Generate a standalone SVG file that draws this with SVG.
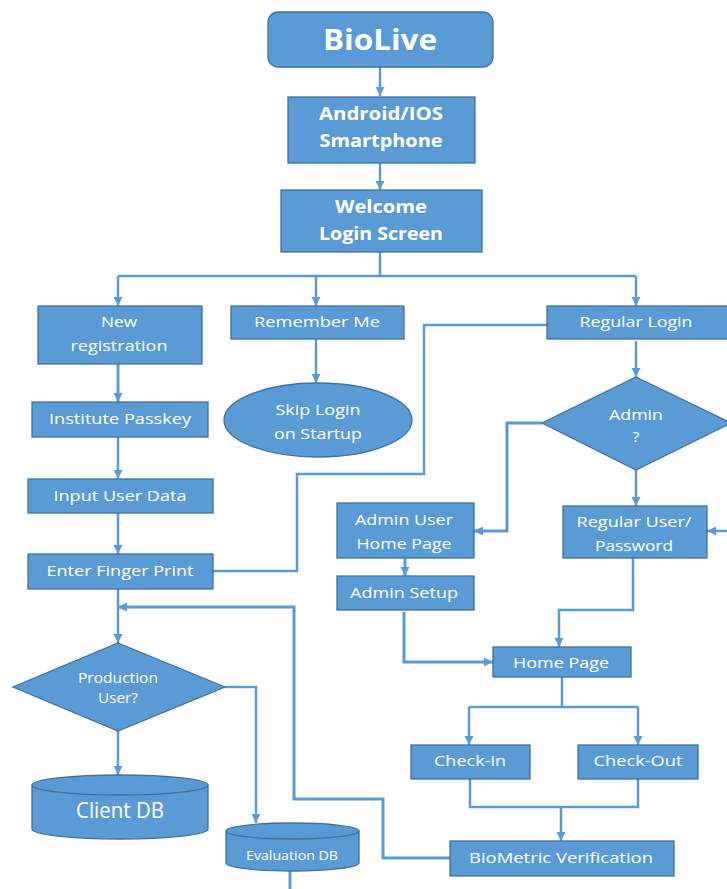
<svg xmlns="http://www.w3.org/2000/svg" width="727" height="889" viewBox="0 0 727 889">
<style>
.n{fill:#5B9BD5;stroke:#41719C;stroke-width:1.3}
.t{fill:#fff;font-family:"Open Sans","Noto Sans",sans-serif;font-size:15px;text-anchor:middle}
.b{font-weight:bold}
.c{fill:none;stroke:#5B9BD5;stroke-width:2.5}
.a{marker-end:url(#ah)}
</style>
<defs>
<marker id="ah" markerUnits="userSpaceOnUse" markerWidth="10" markerHeight="10" refX="9" refY="4.5" orient="auto">
<path d="M0,0 L9,4.5 L0,9 z" fill="#5B9BD5"/>
</marker>
</defs>
<rect width="727" height="889" fill="#fff"/>
<g id="connectors">
<path class="c a" d="M380,67 V96"/>
<path class="c a" d="M380,163 V190"/>
<path class="c" d="M380,252 V276 M118,276 H636"/>
<path class="c a" d="M118,276 V306"/>
<path class="c a" d="M316,276 V306"/>
<path class="c a" d="M636,276 V306"/>
<path class="c a" d="M118,364 V402" style="stroke-width:3"/>
<path class="c a" d="M316,339 V383"/>
<path class="c a" d="M118,437 V479"/>
<path class="c a" d="M118,513 V554"/>
<path class="c a" d="M118,589 V643"/>
<path class="c" d="M213,571 H297 V474 H424 V325 H547"/>
<path class="c a" d="M636,341 V377"/>
<path class="c a" d="M542,423 H507 V531 H474" style="stroke-width:3"/>
<path class="c a" d="M636,470 V506"/>
<path class="c a" d="M727,531 H707"/>
<path class="c a" d="M405,558 V576" style="stroke-width:3"/>
<path class="c a" d="M404,612 V662 H493" style="stroke-width:3"/>
<path class="c a" d="M633,558 V610 H559 V647"/>
<path class="c" d="M562,677 V707 M469,707 H638"/>
<path class="c a" d="M469,707 V745"/>
<path class="c a" d="M638,707 V745"/>
<path class="c" d="M470,779 V807 H638 V779"/>
<path class="c a" d="M561,807 V841"/>
<path class="c a" d="M450,858 H383 V799 H294 V607 H118" style="stroke-width:3"/>
<path class="c a" d="M118,731 V775"/>
<path class="c a" d="M225,687 H256 V823"/>
<path class="c" d="M290,871 V889" style="stroke-width:3"/>
</g>
<g id="biolive">
<rect class="n" x="268" y="12" width="225" height="55" rx="10"/>
<text class="t b" x="380" y="50" style="font-size:28px" textLength="114" lengthAdjust="spacingAndGlyphs">BioLive</text>
</g>
<g id="android">
<rect class="n" x="288" y="97" width="187" height="66"/>
<text class="t b" x="381" y="120" style="font-size:18px" textLength="124" lengthAdjust="spacingAndGlyphs">Android/IOS</text>
<text class="t b" x="381" y="147" style="font-size:18px" textLength="123" lengthAdjust="spacingAndGlyphs">Smartphone</text>
</g>
<g id="welcome">
<rect class="n" x="281" y="190" width="201" height="62"/>
<text class="t b" x="381" y="213" style="font-size:18px" textLength="92" lengthAdjust="spacingAndGlyphs">Welcome</text>
<text class="t b" x="381" y="240" style="font-size:18px" textLength="124" lengthAdjust="spacingAndGlyphs">Login Screen</text>
</g>
<g id="newreg">
<rect class="n" x="38" y="306" width="164" height="58"/>
<text class="t" x="119" y="327" textLength="36" lengthAdjust="spacingAndGlyphs">New</text>
<text class="t" x="119" y="351" textLength="97" lengthAdjust="spacingAndGlyphs">registration</text>
</g>
<g id="remember">
<rect class="n" x="231" y="306" width="173" height="33"/>
<text class="t" x="317" y="327" textLength="126" lengthAdjust="spacingAndGlyphs">Remember Me</text>
</g>
<g id="regularlogin">
<rect class="n" x="547" y="306" width="182" height="33"/>
<text class="t" x="636" y="327" textLength="113" lengthAdjust="spacingAndGlyphs">Regular Login</text>
</g>
<g id="passkey">
<rect class="n" x="32" y="402" width="176" height="35"/>
<text class="t" x="120" y="424" textLength="142" lengthAdjust="spacingAndGlyphs">Institute Passkey</text>
</g>
<g id="skiplogin">
<ellipse class="n" cx="318" cy="420" rx="94" ry="37"/>
<text class="t" x="318" y="415" textLength="85" lengthAdjust="spacingAndGlyphs">Skip Login</text>
<text class="t" x="318" y="439" textLength="88" lengthAdjust="spacingAndGlyphs">on Startup</text>
</g>
<g id="admin">
<polygon class="n" points="636,377 731,423 636,470 542,423"/>
<text class="t" x="636" y="420" textLength="54" lengthAdjust="spacingAndGlyphs">Admin</text>
<text class="t" x="636" y="442">?</text>
</g>
<g id="inputdata">
<rect class="n" x="28" y="479" width="185" height="34"/>
<text class="t" x="120" y="501" textLength="133" lengthAdjust="spacingAndGlyphs">Input User Data</text>
</g>
<g id="adminhome">
<rect class="n" x="337" y="503" width="137" height="55"/>
<text class="t" x="404" y="525" textLength="98" lengthAdjust="spacingAndGlyphs">Admin User</text>
<text class="t" x="404" y="549" textLength="95" lengthAdjust="spacingAndGlyphs">Home Page</text>
</g>
<g id="regularuser">
<rect class="n" x="563" y="506" width="144" height="52"/>
<text class="t" x="634" y="527" textLength="115" lengthAdjust="spacingAndGlyphs">Regular User/</text>
<text class="t" x="634" y="551" textLength="78" lengthAdjust="spacingAndGlyphs">Password</text>
</g>
<g id="fingerprint">
<rect class="n" x="28" y="554" width="185" height="35"/>
<text class="t" x="120" y="576" textLength="147" lengthAdjust="spacingAndGlyphs">Enter Finger Print</text>
</g>
<g id="adminsetup">
<rect class="n" x="337" y="576" width="137" height="34"/>
<text class="t" x="404" y="598" textLength="108" lengthAdjust="spacingAndGlyphs">Admin Setup</text>
</g>
<g id="homepage">
<rect class="n" x="493" y="647" width="138" height="30"/>
<text class="t" x="561" y="668" textLength="96" lengthAdjust="spacingAndGlyphs">Home Page</text>
</g>
<g id="production">
<polygon class="n" points="118,643 225,687 118,731 13,687"/>
<text class="t" x="118" y="683" style="font-size:14px" textLength="80" lengthAdjust="spacingAndGlyphs">Production</text>
<text class="t" x="118" y="703" style="font-size:14px" textLength="40" lengthAdjust="spacingAndGlyphs">User?</text>
</g>
<g id="checkin">
<rect class="n" x="411" y="745" width="119" height="34"/>
<text class="t" x="470" y="766" textLength="72" lengthAdjust="spacingAndGlyphs">Check-in</text>
</g>
<g id="checkout">
<rect class="n" x="578" y="745" width="120" height="34"/>
<text class="t" x="638" y="766" textLength="89" lengthAdjust="spacingAndGlyphs">Check-Out</text>
</g>
<g id="clientdb">
<path class="n" d="M32,785 A88,10 0 0 1 208,785 V829 A88,10 0 0 1 32,829 Z"/>
<path fill="none" stroke="#41719C" stroke-width="1.3" d="M32,785 A88,10 0 0 0 208,785"/>
<text class="t" x="120" y="818" style="font-size:21px" textLength="88" lengthAdjust="spacingAndGlyphs">Client DB</text>
</g>
<g id="evaldb">
<path class="n" d="M226,831 A66.5,8 0 0 1 359,831 V863 A66.5,8 0 0 1 226,863 Z"/>
<path fill="none" stroke="#41719C" stroke-width="1.3" d="M226,831 A66.5,8 0 0 0 359,831"/>
<text class="t" x="292" y="860" style="font-size:12px" textLength="92" lengthAdjust="spacingAndGlyphs">Evaluation DB</text>
</g>
<g id="biometric">
<rect class="n" x="450" y="841" width="224" height="35"/>
<text class="t" x="561" y="863" textLength="184" lengthAdjust="spacingAndGlyphs">BioMetric Verification</text>
</g>
</svg>
